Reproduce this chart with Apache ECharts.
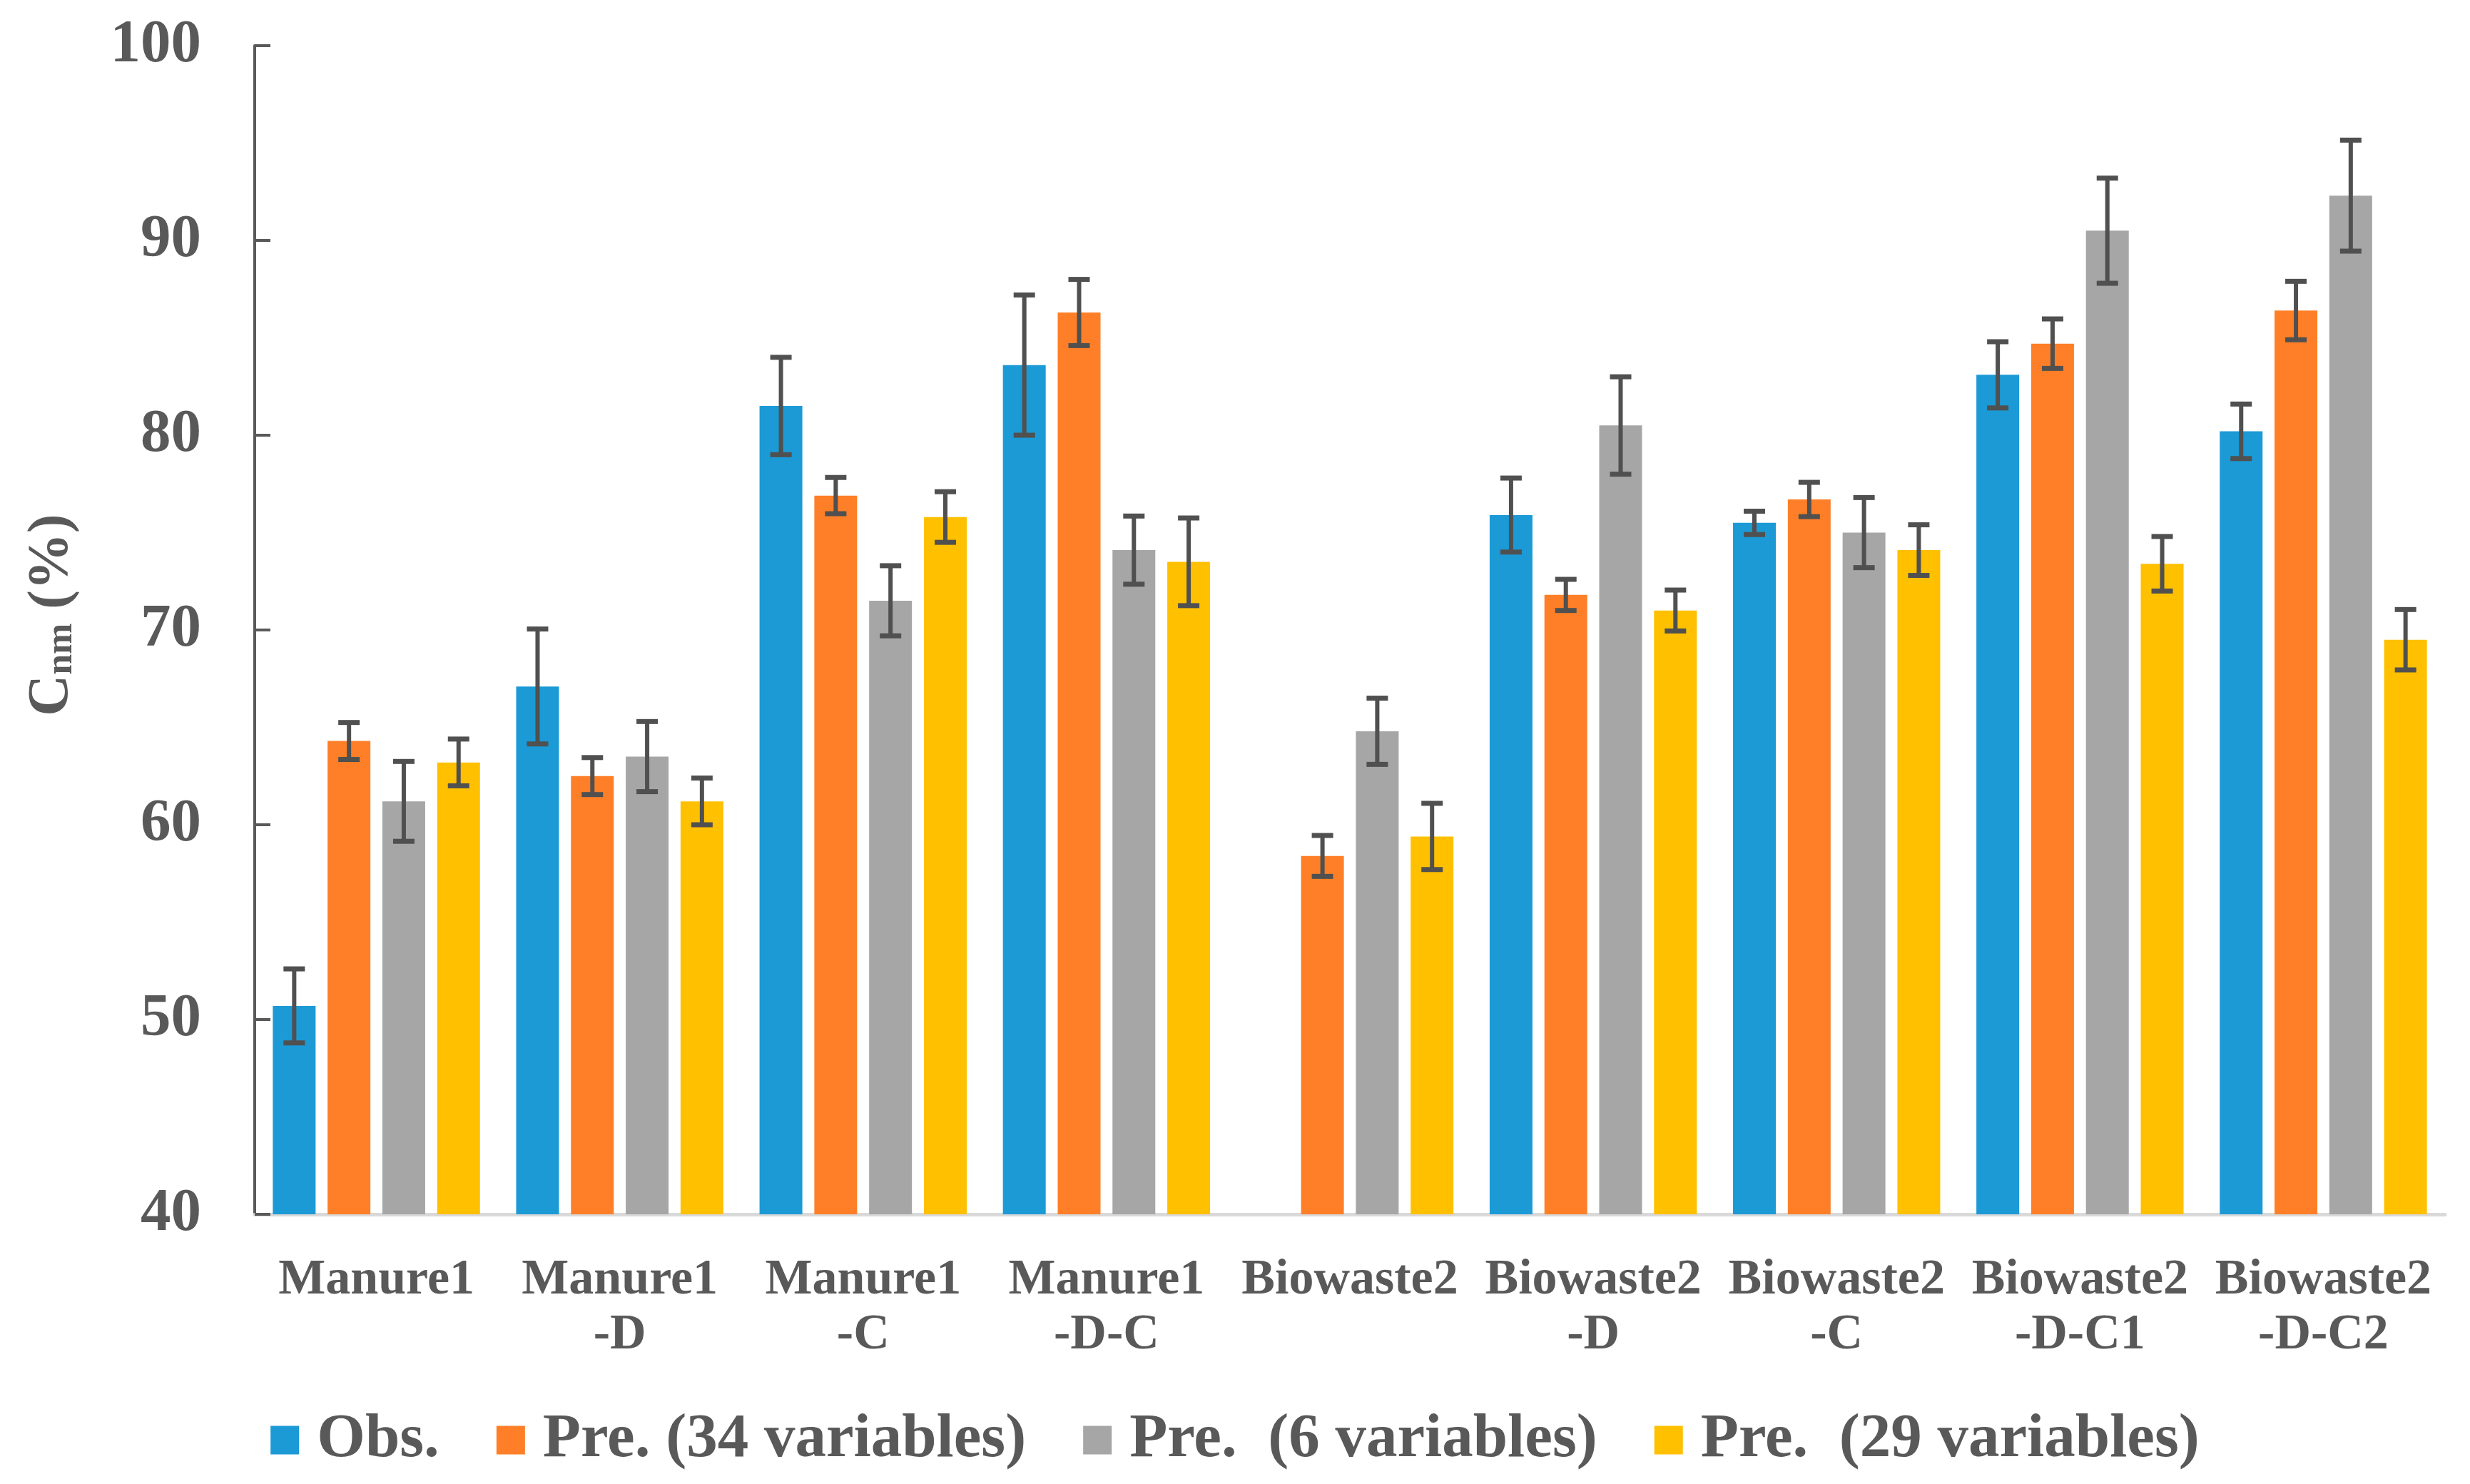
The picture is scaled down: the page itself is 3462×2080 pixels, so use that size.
<!DOCTYPE html>
<html>
<head>
<meta charset="utf-8">
<script src="https://cdn.jsdelivr.net/npm/echarts@6/dist/echarts.min.js"></script>
<style>
html,body{margin:0;padding:0;background:#fff;}
#chart{width:3462px;height:2080px;}
</style>
</head>
<body>
<div id="chart"></div>
<script>
const categories = ['Manure1', 'Manure1\n-D', 'Manure1\n-C', 'Manure1\n-D-C', 'Biowaste2', 'Biowaste2\n-D', 'Biowaste2\n-C', 'Biowaste2\n-D-C1', 'Biowaste2\n-D-C2'];
const seriesNames = ['Obs.', 'Pre. (34 variables)', 'Pre.  (6 variables)', 'Pre.  (29 variables)'];
const obs      = [50.7, 67.1, 81.5, 83.6, null, 75.9, 75.5, 83.1, 80.2];
const obsErr   = [1.9, 2.95, 2.5, 3.6, null, 1.9, 0.6, 1.7, 1.4];
const pre34    = [64.3, 62.5, 76.9, 86.3, 58.4, 71.8, 76.7, 84.7, 86.4];
const pre34Err = [0.95, 0.95, 0.93, 1.7, 1.05, 0.8, 0.88, 1.27, 1.5];
const pre6     = [61.2, 63.5, 71.5, 74.1, 64.8, 80.5, 75.0, 90.5, 92.3];
const pre6Err  = [2.05, 1.8, 1.8, 1.75, 1.7, 2.5, 1.8, 2.7, 2.85];
const pre29    = [63.2, 61.2, 75.8, 73.5, 59.4, 71.0, 74.1, 73.4, 69.5];
const pre29Err = [1.2, 1.2, 1.3, 2.25, 1.7, 1.05, 1.3, 1.4, 1.55];
const yTicks = [40, 50, 60, 70, 80, 90, 100];

const colors = ['#1B9AD6', '#FE7F27', '#A6A6A6', '#FFC000'];
const values = [obs, pre34, pre6, pre29];
const errors = [obsErr, pre34Err, pre6Err, pre29Err];
const BAR_W = 60;
const GAP = 0.28;
const FONT = '"Liberation Serif", "Times New Roman", serif';
const TXT = '#595959';
const ERR_C = '#505050';

const chart = echarts.init(document.getElementById('chart'), null, {renderer: 'canvas'});

const series = [];
values.forEach((vals, i) => {
  series.push({
    name: seriesNames[i],
    type: 'bar',
    data: vals.map(v => v == null ? '-' : v),
    barWidth: BAR_W,
    barGap: (GAP * 100) + '%',
    itemStyle: {color: colors[i]},
    z: 2
  });
});
values.forEach((vals, i) => {
  const data = [];
  vals.forEach((v, k) => {
    if (v != null && errors[i][k] != null) data.push([k, v, errors[i][k]]);
  });
  series.push({
    type: 'custom',
    name: 'err' + i,
    data: data,
    encode: {x: 0, y: 1},
    z: 5,
    silent: true,
    renderItem: function (params, api) {
      const x = api.value(0), v = api.value(1), e = api.value(2);
      const top = api.coord([x, v + e]);
      const bot = api.coord([x, v - e]);
      const off = (i - 1.5) * BAR_W * (1 + GAP);
      const cx = top[0] + off;
      const hw = 15;
      const st = {stroke: ERR_C, lineWidth: 6};
      const cap = {stroke: ERR_C, lineWidth: 7};
      return {
        type: 'group',
        children: [
          {type: 'line', shape: {x1: cx, y1: top[1], x2: cx, y2: bot[1]}, style: st},
          {type: 'line', shape: {x1: cx - hw, y1: top[1], x2: cx + hw, y2: top[1]}, style: cap},
          {type: 'line', shape: {x1: cx - hw, y1: bot[1], x2: cx + hw, y2: bot[1]}, style: cap}
        ]
      };
    }
  });
});

const option = {
  backgroundColor: '#ffffff',
  animation: false,
  grid: {left: 357, right: 35, top: 64, bottom: 378, containLabel: false},
  legend: {
    data: seriesNames,
    top: 1970,
    left: 'center',
    itemWidth: 40,
    itemHeight: 40,
    itemGap: 80,
    icon: 'rect',
    textStyle: {fontFamily: FONT, fontWeight: 'bold', fontSize: 87, color: TXT, padding: [0, 0, 0, 20]}
  },
  xAxis: {
    type: 'category',
    data: categories,
    axisLine: {show: true, lineStyle: {color: '#D9D9D9', width: 5}},
    axisTick: {show: false},
    axisLabel: {fontFamily: FONT, fontWeight: 'bold', fontSize: 70, lineHeight: 77, color: TXT, margin: 54, interval: 0}
  },
  yAxis: {
    type: 'value',
    min: yTicks[0],
    max: yTicks[yTicks.length - 1],
    interval: 10,
    axisLine: {show: true, lineStyle: {color: TXT, width: 4}},
    axisTick: {show: true, inside: true, length: 22, lineStyle: {color: TXT, width: 4}},
    splitLine: {show: false},
    axisLabel: {fontFamily: FONT, fontWeight: 'bold', fontSize: 85, color: TXT, margin: 75}
  },
  graphic: [{
    type: 'text',
    x: 73,
    y: 862,
    rotation: Math.PI / 2,
    style: {
      text: '{c|C}{s|nm}{c| (%)}',
      align: 'center',
      verticalAlign: 'middle',
      fill: TXT,
      rich: {
        c: {fontFamily: FONT, fontWeight: 'bold', fontSize: 80, lineHeight: 80, verticalAlign: 'top', fill: TXT},
        s: {fontFamily: FONT, fontWeight: 'bold', fontSize: 52, lineHeight: 52, padding: [50, 0, 0, 0], verticalAlign: 'bottom', fill: TXT}
      }
    }
  }],
  series: series
};
chart.setOption(option);
</script>
</body>
</html>
